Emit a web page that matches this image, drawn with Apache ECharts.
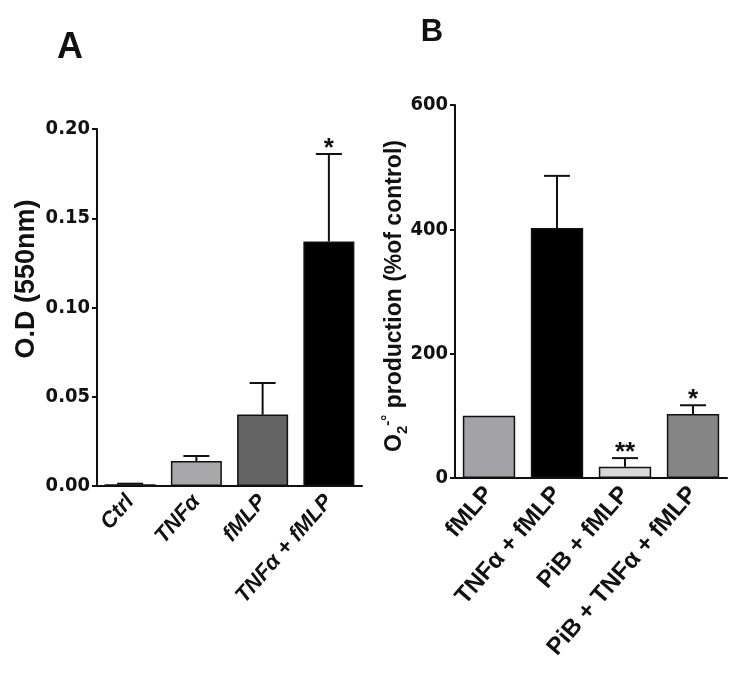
<!DOCTYPE html>
<html>
<head>
<meta charset="utf-8">
<script src="https://cdn.jsdelivr.net/npm/echarts@6/dist/echarts.min.js"></script>
<style>html,body{margin:0;padding:0;background:#fff}#c{width:736px;height:690px}</style>
</head>
<body>
<div id="c"></div>
<script>
// Panel A data
const catsA = ['Ctrl', 'TNFα', 'fMLP', 'TNFα + fMLP'];
const valsA = [0.001, 0.014, 0.040, 0.137];
const errA = [0.0003, 0.0028, 0.0177, 0.049];
const sigA = ['', '', '', '*'];
const ticksA = { min: 0, max: 0.20, interval: 0.05 };

// Panel B data
const catsB = ['fMLP', 'TNFα + fMLP', 'PiB + fMLP', 'PiB + TNFα + fMLP'];
const valsB = [100, 402, 18, 103];
const errB = [0, 84, 14, 14];
const sigB = ['', '', '**', '*'];
const ticksB = { min: 0, max: 600, interval: 200 };

const colorsA = ['#333333', '#a8a8ab', '#646464', '#000000'];
const colorsB = ['#a3a3a7', '#000000', '#d9d9d9', '#858585'];

const INK = '#111';
const tickFont = "'Liberation Sans Narrow', 'DejaVu Sans Condensed', 'Liberation Sans', sans-serif";
const mainFont = "'Liberation Sans', Arial, sans-serif";

function errSeries(idx, vals, errs, sigs) {
  return {
    type: 'custom',
    xAxisIndex: idx, yAxisIndex: idx,
    z: 5,
    data: vals.map((v, i) => [i, v, errs[i]]),
    encode: { x: 0, y: 1 },
    renderItem: function (params, api) {
      const i = api.value(0);
      const v = api.value(1);
      const e = api.value(2);
      const s = sigs[i];
      const p0 = api.coord([i, v]);
      const p1 = api.coord([i, v + e]);
      const children = [];
      if (e > 0) {
        children.push({ type: 'line', shape: { x1: p0[0], y1: p0[1], x2: p1[0], y2: p1[1] }, style: { stroke: INK, lineWidth: 2 } });
        children.push({ type: 'line', shape: { x1: p1[0] - 13, y1: p1[1], x2: p1[0] + 13, y2: p1[1] }, style: { stroke: INK, lineWidth: 2 } });
      }
      if (s) {
        children.push({ type: 'text', x: p1[0], y: p1[1] - 5, style: { text: s, fill: INK, font: 'bold 26px ' + mainFont, textAlign: 'center', textVerticalAlign: 'middle' } });
      }
      return { type: 'group', children: children };
    }
  };
}

function xAxisCfg(idx, cats, italic, size) {
  return {
    type: 'category', gridIndex: idx, data: cats,
    axisLine: { lineStyle: { color: INK, width: 2 } },
    axisTick: { alignWithLabel: true, length: 5, lineStyle: { color: INK, width: 2 } },
    axisLabel: { rotate: 49, interval: 0, margin: 12, color: INK, fontSize: size, fontWeight: 'bold', fontStyle: italic ? 'italic' : 'normal', fontFamily: mainFont },
    splitLine: { show: false }
  };
}

function yAxisCfg(idx, t, dec) {
  return {
    type: 'value', gridIndex: idx, min: t.min, max: t.max, interval: t.interval,
    axisLine: { show: true, lineStyle: { color: INK, width: 2 } },
    axisTick: { show: true, length: 5, lineStyle: { color: INK, width: 2 } },
    axisLabel: { margin: 7, color: INK, fontSize: 20, fontWeight: 'bold', fontFamily: tickFont, formatter: v => v.toFixed(dec) },
    splitLine: { show: false }
  };
}

const chart = echarts.init(document.getElementById('c'), null, { renderer: 'canvas' });
chart.setOption({
  backgroundColor: '#fff',
  animation: false,
  grid: [
    { left: 97, top: 129, width: 265, height: 357 },
    { left: 455, top: 105, width: 272, height: 373 }
  ],
  xAxis: [xAxisCfg(0, catsA, true, 22), xAxisCfg(1, catsB, false, 24)],
  yAxis: [yAxisCfg(0, ticksA, 2), yAxisCfg(1, ticksB, 0)],
  series: [
    {
      type: 'bar', xAxisIndex: 0, yAxisIndex: 0, barCategoryGap: '23%',
      data: valsA.map((v, i) => ({ value: v, itemStyle: { color: colorsA[i] } })),
      itemStyle: { borderColor: INK, borderWidth: 1.5 }
    },
    {
      type: 'bar', xAxisIndex: 1, yAxisIndex: 1, barCategoryGap: '23%',
      data: valsB.map((v, i) => ({ value: v, itemStyle: { color: colorsB[i] } })),
      itemStyle: { borderColor: INK, borderWidth: 1.5 }
    },
    errSeries(0, valsA, errA, sigA),
    errSeries(1, valsB, errB, sigB)
  ],
  graphic: [
    { type: 'text', x: 70, y: 48, style: { text: 'A', fill: INK, font: 'bold 36px ' + mainFont, textAlign: 'center', textVerticalAlign: 'middle' } },
    { type: 'text', x: 432, y: 32, style: { text: 'B', fill: INK, font: 'bold 31px ' + mainFont, textAlign: 'center', textVerticalAlign: 'middle' } },
    { type: 'text', x: 27, y: 279, rotation: Math.PI / 2, style: { text: 'O.D (550nm)', fill: INK, font: 'bold 27px ' + mainFont, textAlign: 'center', textVerticalAlign: 'middle' } },
    {
      type: 'text', x: 395, y: 296, rotation: Math.PI / 2,
      style: {
        text: '{m|O}{sub|2}{sup|-°}{m| production (%of control)}',
        fill: INK, textAlign: 'center', textVerticalAlign: 'middle',
        rich: {
          m: { fontSize: 23, fontWeight: 'bold', fontFamily: mainFont, lineHeight: 30, fill: INK, color: INK },
          sub: { fontSize: 15, fontWeight: 'bold', fontFamily: mainFont, lineHeight: 14, verticalAlign: 'bottom', fill: INK, color: INK },
          sup: { fontSize: 15, fontWeight: 'bold', fontFamily: mainFont, lineHeight: 14, verticalAlign: 'top', fill: INK, color: INK }
        }
      }
    }
  ]
});
</script>
</body>
</html>
